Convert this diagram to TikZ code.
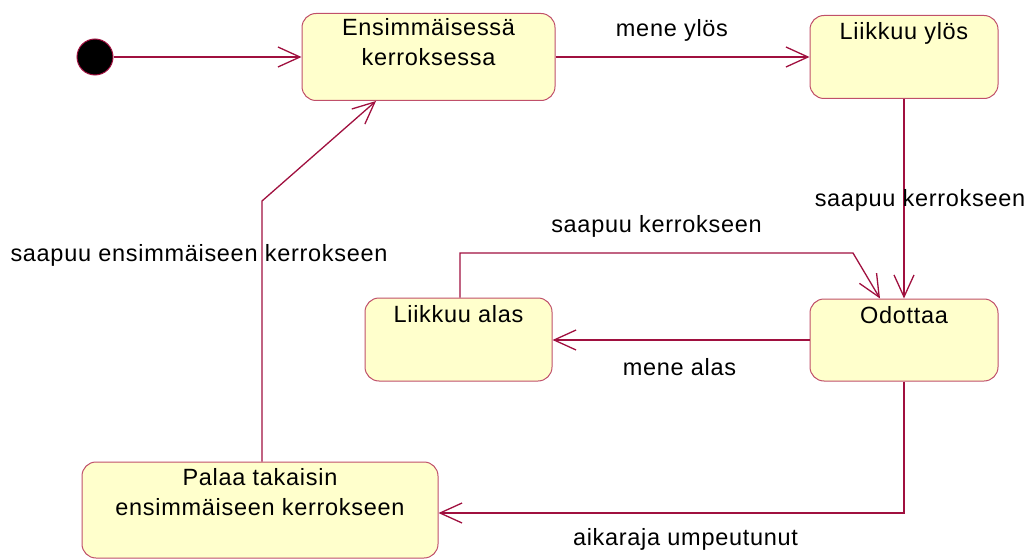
\documentclass[tikz,border=0pt]{standalone}
\usepackage{fontspec}
\setmainfont{Liberation Sans}[LetterSpace=3]
\usetikzlibrary{arrows.meta}
\definecolor{statefill}{HTML}{FFFFCC}
\definecolor{stateline}{HTML}{C0506A}
\definecolor{flow}{HTML}{A0103F}
\newcommand{\twolines}[2]{\begin{tabular}[t]{@{}c@{}}#1\\#2\end{tabular}}
\begin{document}
\begin{tikzpicture}[x=1pt,y=-1pt,
  state/.style={draw=stateline, fill=statefill, rounded corners=14pt, line width=1pt, inner sep=0pt},
  statename/.style={anchor=base, inner sep=0pt, font=\fontsize{23.5}{29.5}\selectfont},
  guard/.style={anchor=base, inner sep=0pt, font=\fontsize{23.5}{29.5}\selectfont},
  trans/.style={draw=flow, line width=1.3pt, -{Straight Barb[length=22pt,width=20pt]}}]
\useasboundingbox (0,0) rectangle (1031,559);

% initial pseudo-state
\node[circle, fill=black, draw=flow, line width=1pt, minimum size=36pt, inner sep=0pt] (init) at (95,57) {};

% states
\node[state, minimum width=253pt, minimum height=87pt] (first) at (428.5,57) {};
\node[statename] (firstname) at ([yshift=-23pt]first.north) {\twolines{Ensimmäisessä}{kerroksessa}};

\node[state, minimum width=188pt, minimum height=83pt] (up) at (904,57) {};
\node[statename] (upname) at ([yshift=-25pt]up.north) {Liikkuu ylös};

\node[state, minimum width=188pt, minimum height=82pt] (wait) at (904,340) {};
\node[statename] (waitname) at ([yshift=-25pt]wait.north) {Odottaa};

\node[state, minimum width=187pt, minimum height=83pt] (down) at (458.5,339.5) {};
\node[statename] (downname) at ([yshift=-25pt]down.north) {Liikkuu alas};

\node[state, minimum width=356pt, minimum height=96pt] (back) at (260,510) {};
\node[statename] (backname) at ([yshift=-24pt]back.north) {\twolines{Palaa takaisin}{ensimmäiseen kerrokseen}};

% bend points
\coordinate (loopbend) at (853,253);
\coordinate (backbend) at (262,201);

% transitions
\draw[trans] (init) -- (first);
\draw[trans] (first.east) -- (up.west);
\draw[trans] (up.south) -- (wait.north);
\draw[trans] (wait.west) -- (wait.west -| down.east);
\draw[trans] ([xshift=1.5pt]down.north) |- (loopbend) -- ([xshift=-24pt]wait.north);
\draw[trans] (wait.south) |- ([yshift=-3pt]back.east);
\draw[trans] ([xshift=2pt]back.north) -- (backbend) -- ([xshift=-52.5pt]first.south);

% transition labels
\node[guard] (gup) at (672,37) {mene ylös};
\node[guard] (garrive) at (920,207) {saapuu kerrokseen};
\node[guard] (garrive2) at (656.5,232) {saapuu kerrokseen};
\node[guard] (gdown) at (679.5,375) {mene alas};
\node[guard] (gtimeout) at (685.5,545) {aikaraja umpeutunut};
\node[guard] (gfirst) at (199,261) {saapuu ensimmäiseen kerrokseen};
\end{tikzpicture}
\end{document}
